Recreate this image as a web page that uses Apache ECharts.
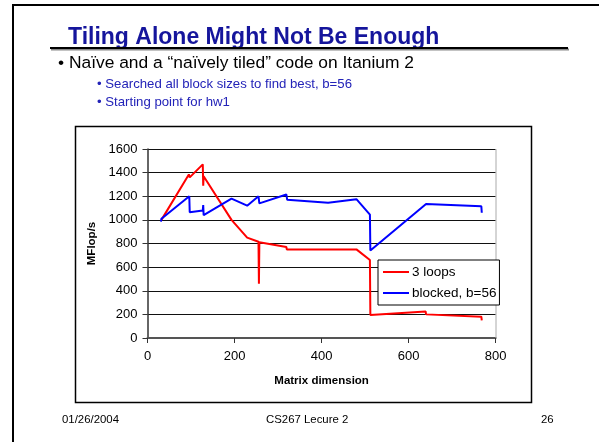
<!DOCTYPE html>
<html>
<head>
<meta charset="utf-8">
<script src="https://cdn.jsdelivr.net/npm/echarts@6/dist/echarts.min.js"></script>
<style>
html,body{margin:0;padding:0;background:#fff;}
#c{width:599px;height:442px;}
</style>
</head>
<body>
<div id="c"></div>
<script>
var seriesNames = ['3 loops', 'blocked, b=56'];
var loopsX = [32, 95, 97, 127, 128, 129, 193, 229, 255, 256, 257, 319, 320, 321, 480, 511, 512, 639, 640, 767, 768];
var loopsY = [1000, 1385, 1360, 1470, 1290, 1370, 1000, 850, 815, 460, 810, 770, 750, 765, 750, 660, 195, 225, 200, 180, 150];
var blockedX = [31, 32, 96, 97, 127, 128, 129, 193, 229, 255, 257, 319, 321, 415, 480, 511, 512, 640, 767, 768];
var blockedY = [985, 1010, 1200, 1065, 1080, 1125, 1040, 1180, 1120, 1200, 1140, 1215, 1170, 1145, 1175, 1045, 740, 1135, 1115, 1060];
var xTicks = [0, 200, 400, 600, 800];
var yTicks = [0, 200, 400, 600, 800, 1000, 1200, 1400, 1600];

function pairs(xs, ys){ return xs.map(function(x,i){ return [x, ys[i]]; }); }

var FONT = 'Liberation Sans, Arial, sans-serif';
var chart = echarts.init(document.getElementById('c'), null, {renderer:'canvas'});
chart.setOption({
  animation:false,
  backgroundColor:'#fff',
  textStyle:{fontFamily:FONT},
  grid:{left:147.5, right:103.3, top:149, bottom:104, show:false},
  xAxis:{
    type:'value', min:xTicks[0], max:xTicks[xTicks.length-1], interval:200,
    name:'Matrix dimension', nameLocation:'middle', nameGap:37,
    nameTextStyle:{fontFamily:FONT, fontSize:11.5, fontWeight:'bold', color:'#000'},
    axisLine:{show:true, onZero:false, lineStyle:{color:'#555', width:2}},
    axisTick:{show:true, length:5, lineStyle:{color:'#333', width:1}},
    axisLabel:{fontFamily:FONT, fontSize:13, color:'#000', margin:12, formatter:function(v){return String(v);}},
    splitLine:{show:false}
  },
  yAxis:{
    type:'value', min:yTicks[0], max:yTicks[yTicks.length-1], interval:200,
    name:'MFlop/s', nameLocation:'middle', nameGap:48, nameRotate:90,
    nameTextStyle:{fontFamily:FONT, fontSize:11.5, fontWeight:'bold', color:'#000'},
    axisLine:{show:true, lineStyle:{color:'#333', width:1.5}},
    axisTick:{show:true, length:5, lineStyle:{color:'#333', width:1}},
    axisLabel:{fontFamily:FONT, fontSize:13, color:'#000', margin:10, formatter:function(v){return String(v);}},
    splitLine:{show:true, lineStyle:{color:'#111', width:1}}
  },
  legend:{
    orient:'vertical', left:378, top:260,
    data:seriesNames,
    backgroundColor:'#fff', borderColor:'#000', borderWidth:1,
    padding:[5,3,5,5], itemGap:7, itemWidth:26, itemHeight:15,
    icon:'path://M0,6.5L26,6.5L26,8.5L0,8.5Z',
    textStyle:{fontFamily:FONT, fontSize:13.5, color:'#000', padding:[0,0,0,-2]}
  },
  graphic:[
    {type:'rect', shape:{x:12, y:4, width:2, height:440}, style:{fill:'#000'}, z:100},
    {type:'rect', shape:{x:12, y:4, width:590, height:2}, style:{fill:'#000'}, z:100},
    {type:'rect', shape:{x:51, y:48.5, width:518, height:2}, style:{fill:'#888'}, z:100},
    {type:'rect', shape:{x:50, y:47, width:518, height:2}, style:{fill:'#000'}, z:101},
    {type:'text', left:68, top:26, style:{text:'Tiling Alone Might Not Be Enough', font:'bold 23px ' + FONT, fill:'#15159c'}, z:100},
    {type:'text', left:58, top:55, style:{text:'\u2022 Na\u00efve and a \u201cna\u00efvely tiled\u201d code on Itanium 2', font:'17.4px ' + FONT, fill:'#000'}, z:100},
    {type:'text', left:97, top:78, style:{text:'\u2022 Searched all block sizes to find best, b=56', font:'13.2px ' + FONT, fill:'#2323b8'}, z:100},
    {type:'text', left:97, top:96, style:{text:'\u2022 Starting point for hw1', font:'13.2px ' + FONT, fill:'#2323b8'}, z:100},
    {type:'rect', shape:{x:75.5, y:126.5, width:456, height:276}, style:{fill:'none', stroke:'#000', lineWidth:1.5}, z:0},
    {type:'line', shape:{x1:496, y1:149, x2:496, y2:338}, style:{stroke:'#aaa', lineWidth:1}, z:1},
    {type:'text', left:62, top:414, style:{text:'01/26/2004', font:'11.4px ' + FONT, fill:'#000'}, z:100},
    {type:'text', left:266, top:414, style:{text:'CS267 Lecure 2', font:'11.4px ' + FONT, fill:'#000'}, z:100},
    {type:'text', left:541, top:414, style:{text:'26', font:'11.4px ' + FONT, fill:'#000'}, z:100}
  ],
  series:[
    {name:seriesNames[0], type:'line', data:pairs(loopsX, loopsY), showSymbol:false, symbol:'none',
     lineStyle:{color:'#ff0000', width:2}, itemStyle:{color:'#ff0000'}, z:3},
    {name:seriesNames[1], type:'line', data:pairs(blockedX, blockedY), showSymbol:false, symbol:'none',
     lineStyle:{color:'#0000ff', width:2}, itemStyle:{color:'#0000ff'}, z:4}
  ]
});
</script>
</body>
</html>
